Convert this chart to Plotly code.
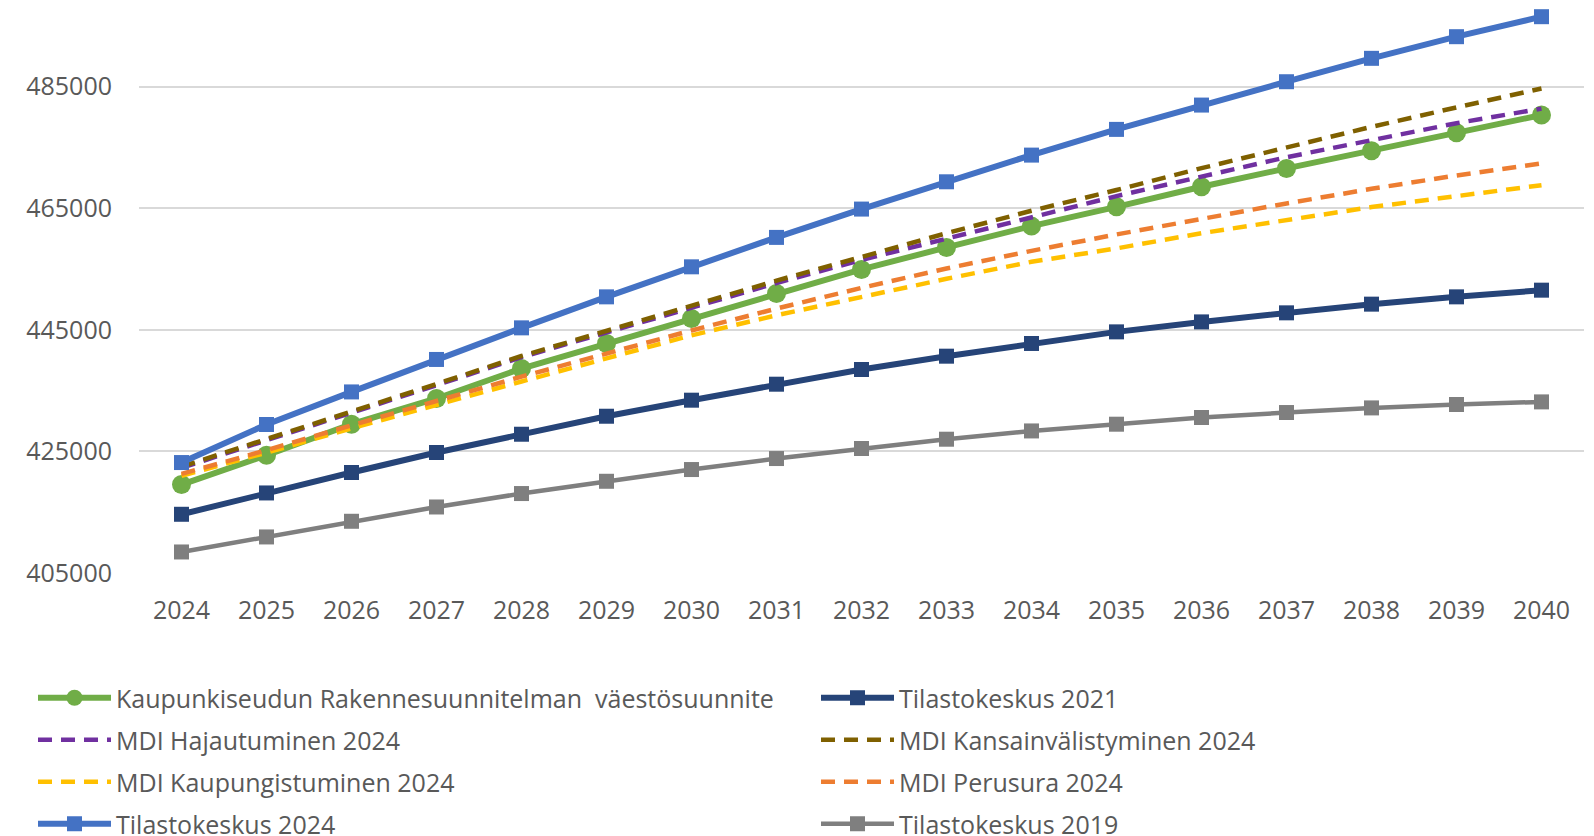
import plotly.graph_objects as go

years = ["2024", "2025", "2026", "2027", "2028", "2029", "2030", "2031", "2032",
         "2033", "2034", "2035", "2036", "2037", "2038", "2039", "2040"]

kaupunkiseutu = [419550, 424370, 429480, 433710, 438640, 442760, 446870, 450990, 454940,
                 458560, 462070, 465240, 468540, 471560, 474460, 477420, 480340]
tk2021 = [414660, 418170, 421530, 424820, 427830, 430790, 433430, 436060, 438480,
          440670, 442760, 444670, 446310, 447800, 449230, 450430, 451530]
hajautuminen = [422300, 426800, 431300, 435900, 440500, 444600, 448700, 452700, 456500,
                460000, 463600, 467000, 470200, 473400, 476200, 479000, 481400]
kansainvalistyminen = [422500, 427000, 431500, 436100, 440700, 444800, 449000, 453100, 457000,
                       460900, 464600, 468000, 471600, 475000, 478400, 481600, 484700]
kaupungistuminen = [421000, 424800, 428800, 432700, 436500, 440300, 444100, 447400, 450400,
                    453400, 456200, 458400, 460900, 463100, 465200, 467000, 468800]
perusura = [421300, 425200, 429300, 433300, 437300, 441100, 444900, 448500, 451900,
            455100, 458000, 460700, 463300, 465800, 468200, 470400, 472400]
tk2024 = [423170, 429430, 434790, 440130, 445330, 450430, 455370, 460210, 464870,
          469360, 473750, 477980, 481980, 485820, 489670, 493230, 496520]
tk2019 = [408460, 410930, 413510, 415860, 418070, 420090, 422020, 423830, 425480,
          427010, 428370, 429480, 430580, 431400, 432160, 432720, 433150]

y_ticks = [405000, 425000, 445000, 465000, 485000]

series = [
    ("Kaupunkiseudun Rakennesuunnitelman  väestösuunnite", kaupunkiseutu, "#70AD47", "solid", "circle", 6, "legend"),
    ("Tilastokeskus 2021", tk2021, "#264478", "solid", "square", 6, "legend2"),
    ("MDI Hajautuminen 2024", hajautuminen, "#7030A0", "dash", None, 4.5, "legend"),
    ("MDI Kansainvälistyminen 2024", kansainvalistyminen, "#7F6000", "dash", None, 4.5, "legend2"),
    ("MDI Kaupungistuminen 2024", kaupungistuminen, "#FFC000", "dash", None, 4.5, "legend"),
    ("MDI Perusura 2024", perusura, "#ED7D31", "dash", None, 4.5, "legend2"),
    ("Tilastokeskus 2024", tk2024, "#4472C4", "solid", "square", 6, "legend"),
    ("Tilastokeskus 2019", tk2019, "#7F7F7F", "solid", "square", 4.5, "legend2"),
]

fig = go.Figure()
for i, (name, vals, color, dash, sym, lw, leg) in enumerate(series):
    kw = dict(
        x=years, y=vals, name=name, legend=leg, legendgroup=f"g{i}",
        line=dict(color=color, width=lw, dash=("14px,9px" if dash == "dash" else "solid")),
        cliponaxis=False,
    )
    if sym:
        kw["mode"] = "lines+markers"
        kw["marker"] = dict(symbol=sym, size=19 if sym == "circle" else 15, color=color,
                            line=dict(width=0))
    else:
        kw["mode"] = "lines"
    fig.add_trace(go.Scatter(**kw))

font_family = "Open Sans"
txt = "#595959"
fs = 25
lfs = 25

# the page body adds an 8px offset; figure is sized to fill the rest of the window
W, H = 1586, 828

fig.update_layout(
    width=W, height=H,
    margin=dict(l=130.5, r=9.5, t=0, b=263.3, autoexpand=False),
    paper_bgcolor="white", plot_bgcolor="white",
    font=dict(family=font_family, size=fs, color=txt),
    xaxis=dict(type="category", range=[-0.5, 16.5], showgrid=False, zeroline=False,
               showline=False, ticks="", tickfont=dict(size=fs, color=txt),
               tickangle=0, automargin=False, ticklabelstandoff=20),
    yaxis=dict(range=[405000, 497950], tickvals=y_ticks, tickformat="d", showgrid=True,
               gridcolor="#D9D9D9", gridwidth=1.5, zeroline=False, showline=False,
               automargin=False, ticks="", tickfont=dict(size=fs, color=txt),
               ticklabelstandoff=26),
    legend=dict(xref="container", yref="container", x=25 / W, y=1 - 667 / H,
                xanchor="left", yanchor="top", orientation="v", itemwidth=73,
                tracegroupgap=6.5, font=dict(size=lfs, color=txt), bgcolor="rgba(0,0,0,0)"),
    legend2=dict(xref="container", yref="container", x=808 / W, y=1 - 667 / H,
                 xanchor="left", yanchor="top", orientation="v", itemwidth=73,
                 tracegroupgap=6.5, font=dict(size=lfs, color=txt), bgcolor="rgba(0,0,0,0)"),
    showlegend=True,
)

fig.write_html("out.html")
